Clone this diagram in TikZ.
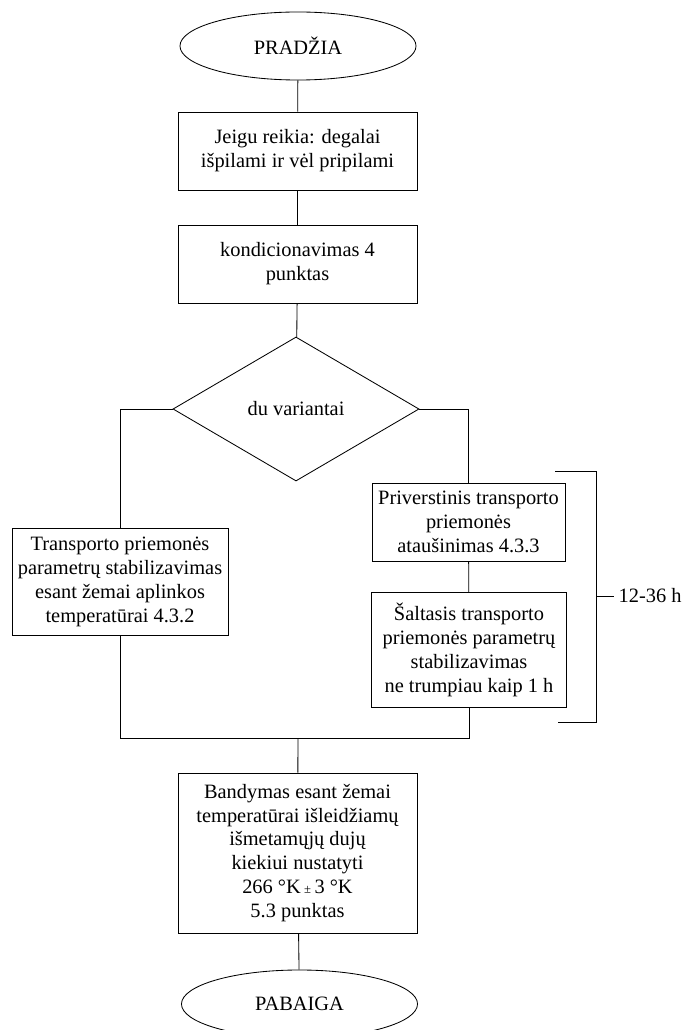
\documentclass[tikz,border=0pt]{standalone}
\usepackage{fontspec}
\setmainfont{Liberation Serif}
\usetikzlibrary{shapes.geometric}

\begin{document}
\begin{tikzpicture}[x=0.025cm, y=-0.025cm, line width=0.6pt,
  every node/.style={font=\fontsize{14.5}{17}\selectfont, align=center, inner sep=2pt},
  term/.style={draw, ellipse, minimum width=5.9cm, minimum height=1.7cm},
  box/.style={draw, rectangle, minimum width=#1, minimum height=1.95cm},
  choice/.style={draw, diamond, inner sep=0pt, minimum width=6.15cm, minimum height=3.6cm}]
  \useasboundingbox (0,0) rectangle (692,1030);

  % main column
  \node[term] (start) at (298,46) {PRADŽIA};
  \node[box=5.975cm] (fuel) at (297.5,151) {Jeigu reikia: degalai\\ išpilami ir vėl pripilami};
  \node[box=5.975cm] (cond) at (297.5,264) {kondicionavimas 4\\ punktas};
  \node[choice] (var) at (296,409) {du variantai};

  % two branches
  \node[box=5.4cm, minimum height=2.675cm] (stab) at (120,582)
    {Transporto priemonės\\ parametrų stabilizavimas\\ esant žemai aplinkos\\ temperatūrai 4.3.2};
  \node[box=4.825cm] (cool) at (468.5,522)
    {Priverstinis transporto\\ priemonės\\ ataušinimas 4.3.3};
  \node[box=4.875cm, minimum height=2.875cm] (cold) at (469,650)
    {Šaltasis transporto\\ priemonės parametrų\\ stabilizavimas\\ ne trumpiau kaip 1 h};

  \node[box=5.975cm, minimum height=4cm] (test) at (297.5,853)
    {Bandymas esant žemai\\ temperatūrai išleidžiamų\\ išmetamųjų dujų\\ kiekiui nustatyti\\ 266 °K\,{\small ±}\,3 °K\\ 5.3 punktas};
  \node[term] (end) at (299.5,1004) {PABAIGA};

  \coordinate (join) at (298,738);

  \draw (start) -- (fuel);
  \draw (fuel) -- (cond);
  \draw (cond) -- (var);
  \draw (var.west) -| (stab.north);
  \draw (var.east) -| (cool.north);
  \draw (cool) -- (cold);
  \draw (stab.south) |- (join);
  \draw (cold.south) |- (join);
  \draw (join) -- (test);
  \draw (test) -- (end);

  % time bracket
  \coordinate (brA) at (555,471);
  \coordinate (brB) at (596,471);
  \coordinate (brC) at (596,722);
  \coordinate (brD) at (558,722);
  \coordinate (brM) at (596,596);
  \node[anchor=west, inner sep=3pt] (dur) at (614,596) {12-36 h};
  \draw (brA) -- (brB) -- (brC) -- (brD);
  \draw (brM) -- (dur.west);
\end{tikzpicture}
\end{document}
